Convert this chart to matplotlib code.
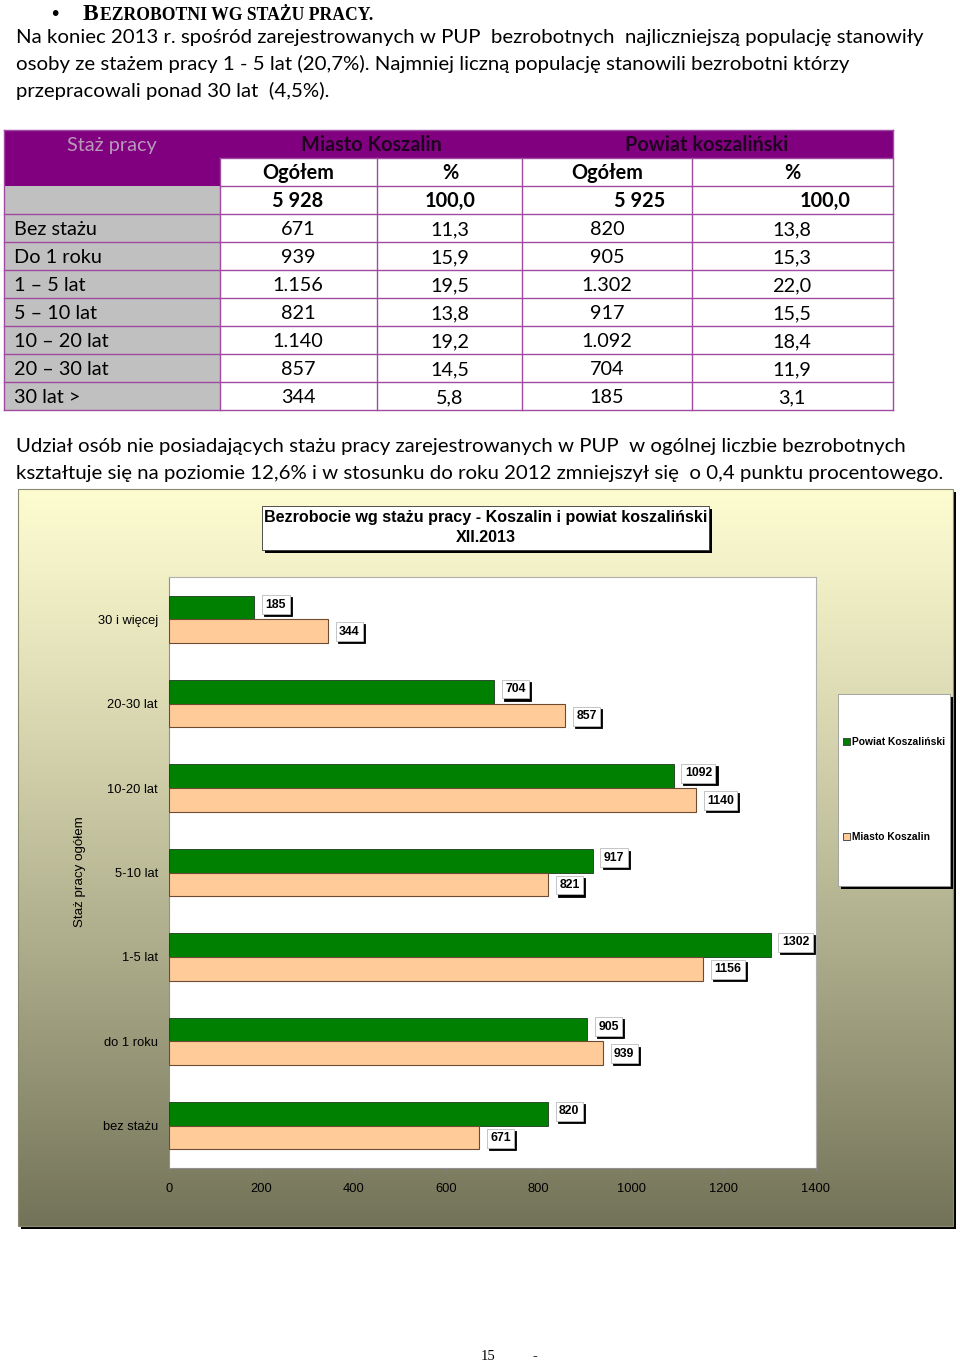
import matplotlib
matplotlib.use("Agg")
import matplotlib.pyplot as plt
import numpy as np
from matplotlib.patches import Rectangle
from matplotlib.colors import to_rgb

# ---------------- data ----------------
heading_initial = "B"
heading_rest = "EZROBOTNI WG STAŻU PRACY."
intro_lines = [
    "Na koniec 2013 r. spośród zarejestrowanych w PUP  bezrobotnych  najliczniejszą populację stanowiły",
    "osoby ze stażem pracy 1 - 5 lat (20,7%). Najmniej liczną populację stanowili bezrobotni którzy",
    "przepracowali ponad 30 lat  (4,5%).",
]
outro_lines = [
    "Udział osób nie posiadających stażu pracy zarejestrowanych w PUP  w ogólnej liczbie bezrobotnych",
    "kształtuje się na poziomie 12,6% i w stosunku do roku 2012 zmniejszył się  o 0,4 punktu procentowego.",
]

table_corner = "Staż pracy"
table_groups = ["Miasto Koszalin", "Powiat koszaliński"]
table_sub = ["Ogółem", "%", "Ogółem", "%"]
table_totals = ["5 928", "100,0", "5 925", "100,0"]
table_rows = ["Bez stażu", "Do 1 roku", "1 – 5 lat", "5 – 10 lat", "10 – 20 lat", "20 – 30 lat", "30 lat >"]
miasto_count_txt = ["671", "939", "1.156", "821", "1.140", "857", "344"]
miasto_pct_txt = ["11,3", "15,9", "19,5", "13,8", "19,2", "14,5", "5,8"]
powiat_count_txt = ["820", "905", "1.302", "917", "1.092", "704", "185"]
powiat_pct_txt = ["13,8", "15,3", "22,0", "15,5", "18,4", "11,9", "3,1"]

chart_title = ["Bezrobocie wg stażu pracy - Koszalin i powiat koszaliński", "XII.2013"]
categories = ["30 i więcej", "20-30 lat", "10-20 lat", "5-10 lat", "1-5 lat", "do 1 roku", "bez stażu"]
powiat = [185, 704, 1092, 917, 1302, 905, 820]
miasto = [344, 857, 1140, 821, 1156, 939, 671]
series_names = ["Powiat Koszaliński", "Miasto Koszalin"]
xticks = [0, 200, 400, 600, 800, 1000, 1200, 1400]
y_axis_title = "Staż pracy ogółem"
page_number = "15"

# ---------------- styles ----------------
BODY = "Lato"
ARIAL = "Liberation Sans"
SERIF = "Liberation Serif"
PURPLE = "#800080"
GRIDP = "#a04aa0"
GRAY = "#c0c0c0"
GREEN = "#008000"
PEACH = "#ffcc99"

W, H = 960, 1361
fig = plt.figure(figsize=(W / 100, H / 100), dpi=100)
bg = fig.add_axes([0, 0, 1, 1], zorder=0)
bg.set_xlim(0, W)
bg.set_ylim(H, 0)
bg.axis("off")
renderer = fig.canvas.get_renderer()


def fit_size(s, target_w, family, weight="normal", base=12.0):
    t = bg.text(0, 0, s, fontsize=base, family=family, weight=weight)
    w = t.get_window_extent(renderer=renderer).width
    t.remove()
    return base * target_w / w


# ---------------- heading ----------------
bg.text(55, 20, "•", fontsize=14, family="DejaVu Sans", ha="center", va="baseline")
tB = bg.text(83, 20, heading_initial, fontsize=17, family=SERIF, weight="bold", va="baseline")
ext = tB.get_window_extent(renderer=renderer)
xr = bg.transData.inverted().transform((ext.x1, ext.y0))[0]
bg.text(xr + 1, 20, heading_rest, fontsize=12.7, family=SERIF, weight="bold", va="baseline")

# ---------------- paragraphs ----------------
fs_body = fit_size(intro_lines[0], 907, BODY)
for i, line in enumerate(intro_lines):
    bg.text(16, 43 + 27 * i, line, fontsize=fs_body, family=BODY, va="baseline")
fs_out = fit_size(outro_lines[1], 926, BODY)
for i, line in enumerate(outro_lines):
    bg.text(16, 452 + 27 * i, line, fontsize=fs_out, family=BODY, va="baseline")

# ---------------- table ----------------
cols = [4, 220, 377, 522, 692, 893]
rows = [130, 158, 186] + [214 + 28 * k for k in range(8)]
fs_tab = fit_size(table_rows[0], 83, BODY)
bg.add_patch(Rectangle((cols[0], rows[0]), cols[-1] - cols[0], rows[-1] - rows[0], fc="white", ec="none", zorder=1))
bg.add_patch(Rectangle((cols[0], rows[0]), cols[-1] - cols[0], rows[1] - rows[0], fc=PURPLE, ec="none", zorder=1))
bg.add_patch(Rectangle((cols[0], rows[1]), cols[1] - cols[0], rows[2] - rows[1], fc=PURPLE, ec="none", zorder=1))
bg.add_patch(Rectangle((cols[0], rows[2]), cols[1] - cols[0], rows[-1] - rows[2], fc=GRAY, ec="none", zorder=1))
for yy in rows[1:]:
    x0 = cols[1] if yy in (rows[1], rows[2]) else cols[0]
    bg.plot([x0, cols[-1]], [yy, yy], color=GRIDP, lw=1.0, zorder=2)
bg.plot([cols[0], cols[-1]], [rows[0], rows[0]], color=GRIDP, lw=1.0, zorder=2)
for xx in cols:
    y0 = rows[0] if xx in (cols[0], cols[-1]) else rows[1]
    bg.plot([xx, xx], [y0, rows[-1]], color=GRIDP, lw=1.0, zorder=2)


def rc(r):
    return (rows[r] + rows[r + 1]) / 2 + 7


bg.text(112, rc(0), table_corner, fontsize=fs_tab, family=BODY, color="#b89ab8", ha="center", va="baseline", zorder=3)
bg.text(371, rc(0), table_groups[0], fontsize=fs_tab, family=BODY, weight="bold", color="#200020", ha="center", va="baseline", zorder=3)
bg.text(707, rc(0), table_groups[1], fontsize=fs_tab, family=BODY, weight="bold", color="#200020", ha="center", va="baseline", zorder=3)
sub_x = [298, 450, 607, 792]
for x, s in zip(sub_x, table_sub):
    bg.text(x, rc(1), s, fontsize=fs_tab, family=BODY, weight="bold", ha="center", va="baseline", zorder=3)
tot_x = [298, 450, 640, 825]
for x, s in zip(tot_x, table_totals):
    bg.text(x, rc(2), s, fontsize=fs_tab, family=BODY, weight="bold", ha="center", va="baseline", zorder=3)
for k, name in enumerate(table_rows):
    r = 3 + k
    bg.text(14, rc(r), name, fontsize=fs_tab, family=BODY, va="baseline", zorder=3)
    for x, s in zip(sub_x, [miasto_count_txt[k], miasto_pct_txt[k], powiat_count_txt[k], powiat_pct_txt[k]]):
        bg.text(x, rc(r), s, fontsize=fs_tab, family=BODY, ha="center", va="baseline", zorder=3)

# ---------------- chart frame with gradient ----------------
cx0, cx1, cy0, cy1 = 18, 953, 489, 1226
bg.add_patch(Rectangle((cx0 + 3, cy0 + 3), cx1 - cx0, cy1 - cy0, fc="black", ec="none", zorder=1))
top_c = np.array(to_rgb("#fdfbd0"))
bot_c = np.array(to_rgb("#737359"))
tt = np.linspace(0, 1, 256)[:, None] ** 1.15
grad = (top_c[None, :] * (1 - tt) + bot_c[None, :] * tt)[:, None, :]
bg.imshow(grad, extent=(cx0, cx1, cy1, cy0), aspect="auto", zorder=2, interpolation="bilinear")
bg.add_patch(Rectangle((cx0, cy0), cx1 - cx0, cy1 - cy0, fc="none", ec="#8a8a6e", lw=0.8, zorder=3))
bg.set_xlim(0, W)
bg.set_ylim(H, 0)

# title box
tbx0, tbx1, tby0, tby1 = 262, 709, 506, 550
bg.add_patch(Rectangle((tbx0 + 3, tby0 + 3), tbx1 - tbx0, tby1 - tby0, fc="black", ec="none", zorder=4))
bg.add_patch(Rectangle((tbx0, tby0), tbx1 - tbx0, tby1 - tby0, fc="white", ec="#333333", lw=0.6, zorder=5))
fs_title = fit_size(chart_title[0], 441, ARIAL, weight="bold")
bg.text((tbx0 + tbx1) / 2, 522, chart_title[0], fontsize=fs_title, family=ARIAL, weight="bold", ha="center", va="baseline", zorder=6)
bg.text((tbx0 + tbx1) / 2, 542, chart_title[1], fontsize=fs_title, family=ARIAL, weight="bold", ha="center", va="baseline", zorder=6)

# legend box
lx0, lx1, ly0, ly1 = 838, 950, 694, 886
bg.add_patch(Rectangle((lx0 + 3, ly0 + 3), lx1 - lx0, ly1 - ly0, fc="black", ec="none", zorder=4))
bg.add_patch(Rectangle((lx0, ly0), lx1 - lx0, ly1 - ly0, fc="white", ec="#999999", lw=0.6, zorder=5))
for name, col, yy in zip(series_names, [GREEN, PEACH], [742, 837]):
    bg.add_patch(Rectangle((843, yy - 4), 7, 7, fc=col, ec="#333333", lw=0.6, zorder=6))
    bg.text(852, yy, name, fontsize=7.4, family=ARIAL, weight="bold", va="center", zorder=6)

# y axis title
bg.text(80, 872, y_axis_title, fontsize=9.6, family=ARIAL, rotation=90, ha="center", va="center", zorder=6)

# ---------------- chart ----------------
ax = fig.add_axes([169 / W, 1 - 1168 / H, (816 - 169) / W, (1168 - 577) / H], zorder=2)
ax.set_facecolor("white")
yy = np.arange(len(categories))
h = 0.28
ax.barh(yy - h / 2, powiat, height=h, color=GREEN, edgecolor="#1e3a1e", lw=0.6, zorder=3)
ax.barh(yy + h / 2, miasto, height=h, color=PEACH, edgecolor="#6e4a30", lw=0.8, zorder=3)
ax.set_xlim(0, 1400)
ax.set_ylim(len(categories) - 0.5, -0.5)
ax.set_yticks(yy)
ax.set_yticklabels(categories, fontsize=9.3, family=ARIAL)
ax.tick_params(axis="y", length=0, pad=8)
ax.set_xticks(xticks)
ax.set_xticklabels([str(v) for v in xticks], fontsize=9.3, family=ARIAL)
ax.tick_params(axis="x", length=3, pad=8, color="#808080", direction="out")
for s in ax.spines.values():
    s.set_color("#b0b0b0")
    s.set_linewidth(0.8)
ax.spines["bottom"].set_color("#909090")
ax.spines["left"].set_color("#909090")


def value_label(val, yc, dy):
    for fc, ec, off in (("black", "black", 1.5), ("white", "#bbbbbb", 0.0)):
        ax.annotate(str(val), xy=(val, yc), xytext=(8 + off, dy - off), textcoords="offset points",
                    ha="left", va="center", fontsize=8.8, fontweight="bold", family=ARIAL, color="black",
                    bbox=dict(boxstyle="square,pad=0.28", fc=fc, ec=ec, lw=0.6),
                    annotation_clip=False, zorder=5)


for i in range(len(categories)):
    value_label(powiat[i], yy[i] - h / 2, 2.0)
    value_label(miasto[i], yy[i] + h / 2, -0.5)

# page number
bg.text(488, 1360, page_number, fontsize=10.5, family=SERIF, ha="center", va="baseline")
bg.text(535, 1360, "-", fontsize=10.5, family=SERIF, weight="bold", ha="center", va="baseline")

fig.savefig("out.png", dpi=100)
